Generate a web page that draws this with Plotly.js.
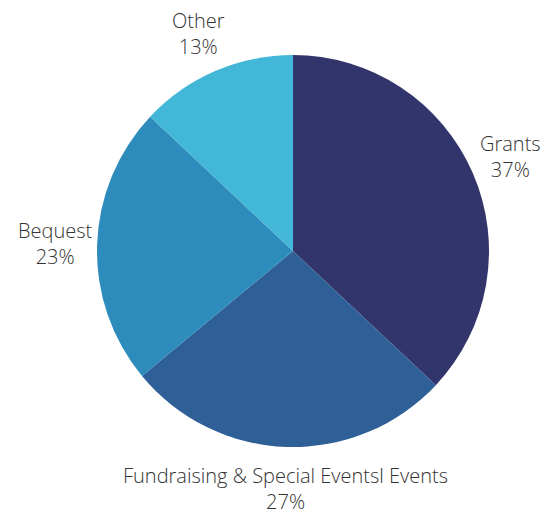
<!DOCTYPE html>
<html>
<head>
<meta charset="utf-8">
<script src="https://cdn.plot.ly/plotly-3.0.1.min.js"></script>
<style>html,body{margin:0;padding:0;background:#fff;}#chart{width:553px;height:512px;}</style>
</head>
<body>
<div id="chart"></div>
<script>
const labels = ["Grants", "Fundraising & Special Eventsl Events", "Bequest", "Other"];
const values = [37, 27, 23, 13];
const colors = ["#31356B", "#2E5F96", "#2D8CBB", "#42B7D7"];

// Label annotations placed along each slice's mid-angle (computed from the values)
const total = values.reduce((a, b) => a + b, 0);
const labelRadius = 1.21; // relative to the pie radius
let cum = 0;
const annotations = values.map((v, i) => {
  const mid = (cum + v / 2) / total * 2 * Math.PI;
  cum += v;
  return {
    xref: "paper", yref: "paper",
    x: 0.5 + 0.5 * labelRadius * Math.sin(mid),
    y: 0.5 + 0.5 * labelRadius * Math.cos(mid),
    xanchor: "center", yanchor: "middle",
    text: labels[i] + "<br>" + Math.round(v / total * 100) + "%",
    align: "center",
    showarrow: false,
    font: {family: "Open Sans", size: 20, weight: 300, color: "#333333"}
  };
});

Plotly.newPlot("chart", [{
  type: "pie",
  labels: labels,
  values: values,
  sort: false,
  direction: "clockwise",
  rotation: 0,
  marker: {colors: colors, line: {width: 0}},
  textinfo: "none",
  hoverinfo: "none",
  showlegend: false
}], {
  width: 553, height: 512,
  margin: {l: 97, r: 64, t: 55, b: 65},
  paper_bgcolor: "#fff",
  showlegend: false,
  annotations: annotations
}, {displayModeBar: false, staticPlot: true});
</script>
</body>
</html>
